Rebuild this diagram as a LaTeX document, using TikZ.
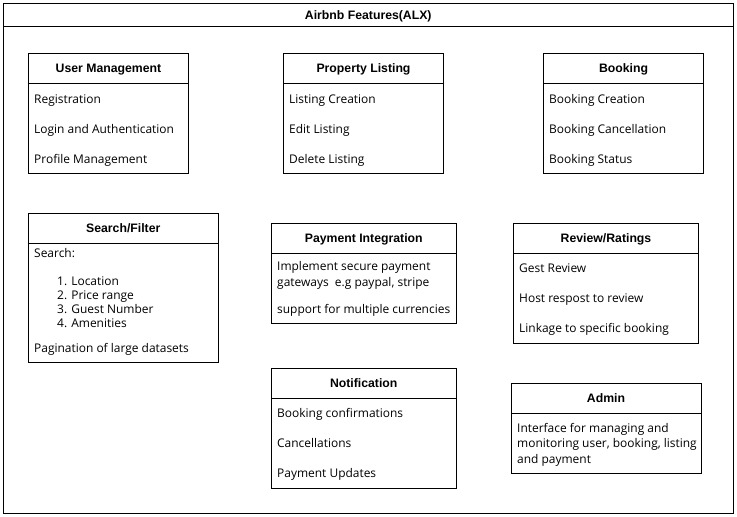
\documentclass[tikz,border=0pt]{standalone}
\usepackage{fontspec}
\setmainfont{Liberation Sans}
\newfontfamily\bodyfont{Open Sans}
\tikzset{
  boxpart/.style={draw=black, line width=1bp, anchor=north west, inner sep=0pt, outer sep=0pt, fill=white},
  ttl/.style={font=\fontsize{12.3}{14}\selectfont\bfseries, inner sep=0pt, anchor=base, yshift=-4.4bp},
  txt/.style={font=\bodyfont\fontsize{12}{14}\selectfont, anchor=base west, inner sep=0pt, yshift=-4.3bp},
}
\newcommand{\mycard}[6]{%
  % #1 name, #2 x, #3 y, #4 width, #5 body height, #6 title
  \node[boxpart, minimum width=#4bp, minimum height=30bp] (#1T) at (#2,#3) {};
  \node[boxpart, minimum width=#4bp, minimum height=#5bp] (#1B) at (#1T.south west) {};
  \node[ttl] (#1L) at (#1T.center) {#6};
}
\begin{document}
\begin{tikzpicture}[x=1bp,y=-1bp]
\useasboundingbox (0,0) rectangle (737,517);
\fill[white] (0,0) rectangle (737,517);
% outer frame
\node[boxpart, minimum width=729.5bp, minimum height=23bp] (outT) at (3.5,3.5) {};
\node[boxpart, minimum width=729.5bp, minimum height=486.5bp] (outB) at (outT.south west) {};
\node[ttl] (outL) at (outT.center) {Airbnb Features(ALX)};

\mycard{um}{28.5}{53.5}{160}{90}{User Management}
\node[txt] (um1) at (34,99) {Registration};
\node[txt] (um2) at (34,129) {Login and Authentication};
\node[txt] (um3) at (34,159) {Profile Management};

\mycard{pl}{283.5}{53.5}{160}{90}{Property Listing}
\node[txt] (pl1) at (289,99) {Listing Creation};
\node[txt] (pl2) at (289,129) {Edit Listing};
\node[txt] (pl3) at (289,159) {Delete Listing};

\mycard{bk}{543.5}{53.5}{160}{90}{Booking}
\node[txt] (bk1) at (549,99) {Booking Creation};
\node[txt] (bk2) at (549,129) {Booking Cancellation};
\node[txt] (bk3) at (549,159) {Booking Status};

\mycard{sf}{28.5}{213.5}{189.5}{119}{Search/Filter}
\node[txt] (sf0) at (34,253) {Search:};
\node[txt] (sf1) at (57,281) {1. Location};
\node[txt] (sf2) at (57,295.5) {2. Price range};
\node[txt] (sf3) at (57,309.5) {3. Guest Number};
\node[txt] (sf4) at (57,323.5) {4. Amenities};
\node[txt] (sf5) at (34,348.5) {Pagination of large datasets};

\mycard{pi}{271.5}{223.5}{184.5}{70}{Payment Integration}
\node[txt] (pi1) at (277,266) {Implement secure payment};
\node[txt] (pi2) at (277,282) {gateways\ \ e.g paypal, stripe};
\node[txt] (pi3) at (277,309) {support for multiple currencies};

\mycard{rr}{513.5}{223.5}{185}{90}{Review/Ratings}
\node[txt] (rr1) at (519,268) {Gest Review};
\node[txt] (rr2) at (519,298) {Host respost to review};
\node[txt] (rr3) at (519,328) {Linkage to specific booking};

\mycard{nt}{271.5}{368.5}{184.5}{90}{Notification}
\node[txt] (nt1) at (277,413) {Booking confirmations};
\node[txt] (nt2) at (277,443) {Cancellations};
\node[txt] (nt3) at (277,473) {Payment Updates};

\mycard{ad}{511}{383.5}{190}{60}{Admin}
\node[txt] (ad1) at (517,428) {Interface for managing and};
\node[txt] (ad2) at (517,443.5) {monitoring user, booking, listing};
\node[txt] (ad3) at (517,459) {and payment};
\end{tikzpicture}
\end{document}
